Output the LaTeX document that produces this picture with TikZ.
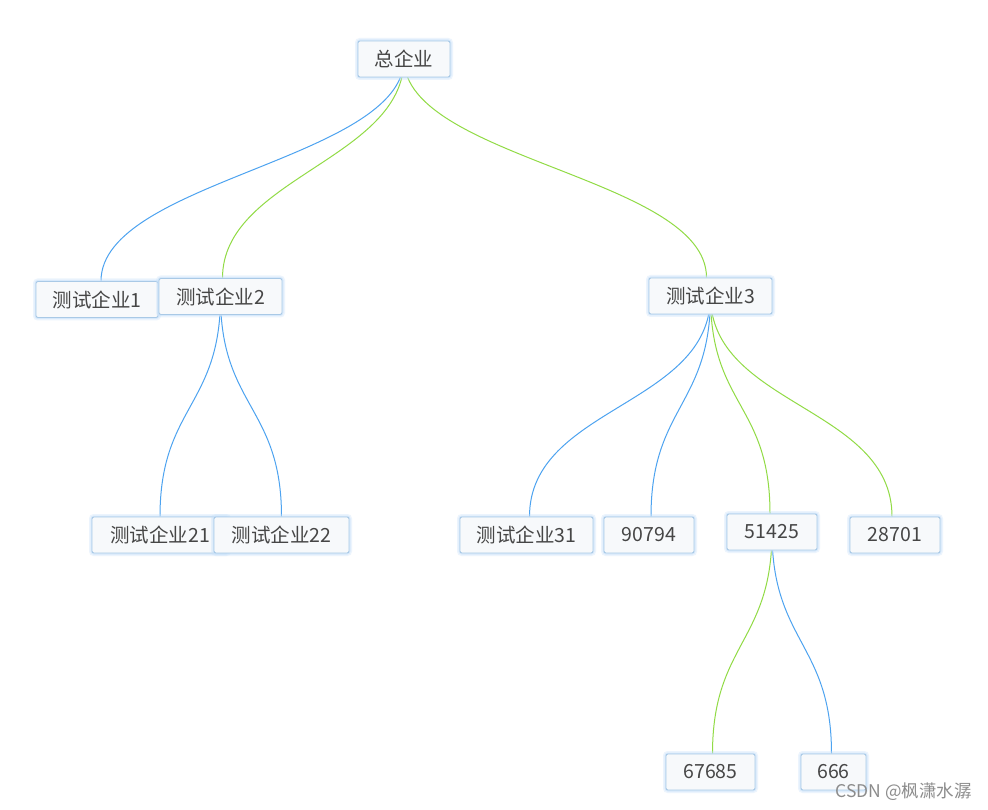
\documentclass[tikz,border=0pt]{standalone}
\usepackage{fontspec}
\setmainfont{Noto Sans CJK SC}
\usetikzlibrary{calc}
\definecolor{eblue}{HTML}{4DA3F0}
\definecolor{egreen}{HTML}{91DB45}
\definecolor{boxfill}{HTML}{F7F9FB}
\definecolor{boxline}{HTML}{A9C9E6}
\definecolor{glow}{HTML}{C9E2FA}
\definecolor{txt}{HTML}{464646}
\pgfdeclarelayer{bg}
\pgfsetlayers{bg,main}
\begin{document}
\begin{tikzpicture}[x=1pt,y=-1pt,
  tnode/.style={draw=boxline, line width=0.9pt, fill=boxfill, rounded corners=2pt,
    minimum height=36pt, inner xsep=0pt, inner ysep=0pt, text=txt,
    font=\fontsize{19.5}{21}\selectfont,
    preaction={draw=glow, line width=6pt, opacity=0.35},
    preaction={draw=glow, line width=3pt, opacity=0.6}},
  bl/.style={draw=eblue, line width=1pt},
  gr/.style={draw=egreen, line width=1pt}]
\useasboundingbox (0,0) rectangle (988,810);

\node[tnode, minimum width=92pt] (root) at (404,59) {总企业};
\node[tnode, minimum width=122pt] (c1) at (97,299.5) {测试企业1};
\node[tnode, minimum width=123pt] (c2) at (220.5,296.5) {测试企业2};
\node[tnode, minimum width=123pt] (c3) at (710.5,296) {测试企业3};
\node[tnode, minimum width=136pt] (c21) at (160,535) {测试企业21};
\node[tnode, minimum width=135pt] (c22) at (281.5,535) {测试企业22};
\node[tnode, minimum width=133pt] (c31) at (526.5,535) {测试企业31};
\node[tnode, minimum width=90pt] (n1) at (649,535) {90794};
\node[tnode, minimum width=90pt] (n2) at (772,532) {51425};
\node[tnode, minimum width=90pt] (n3) at (895,535) {28701};
\node[tnode, minimum width=89pt] (n21) at (710.5,772) {67685};
\node[tnode, minimum width=65pt] (n22) at (833.5,772) {666};

\node[text=black!45, font=\fontsize{17.5}{19}\selectfont, anchor=east, inner sep=0pt] (wm) at (972,792) {CSDN @枫潇水潺};

\begin{pgfonlayer}{bg}
\fill[white] (0,0) rectangle (988,810);
\draw[bl] (root.center) .. controls +(0,100) and +(0,-100) .. ([xshift=4pt]c1.north);
\draw[gr] (root.center) .. controls +(0,100) and +(0,-100) .. ([xshift=2pt]c2.north);
\draw[gr] (root.center) .. controls +(0,100) and +(0,-100) .. ([xshift=-4pt]c3.north);
\draw[bl] (c2.center) .. controls +(0,110) and +(0,-110) .. (c21.north);
\draw[bl] (c2.center) .. controls +(0,110) and +(0,-110) .. (c22.north);
\draw[bl] (c3.center) .. controls +(0,110) and +(0,-110) .. ([xshift=3pt]c31.north);
\draw[bl] (c3.center) .. controls +(0,110) and +(0,-110) .. ([xshift=2pt]n1.north);
\draw[gr] (c3.center) .. controls +(0,110) and +(0,-110) .. ([xshift=-2pt]n2.north);
\draw[gr] (c3.center) .. controls +(0,110) and +(0,-110) .. ([xshift=-3pt]n3.north);
\draw[gr] (n2.center) .. controls +(0,110) and +(0,-110) .. ([xshift=2pt]n21.north);
\draw[bl] (n2.center) .. controls +(0,110) and +(0,-110) .. ([xshift=-2pt]n22.north);
\end{pgfonlayer}
\end{tikzpicture}
\end{document}
